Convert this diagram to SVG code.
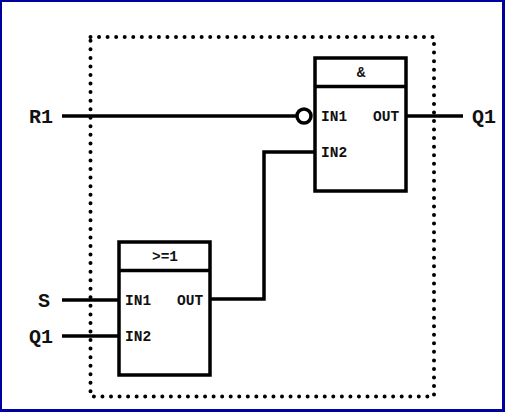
<svg xmlns="http://www.w3.org/2000/svg" width="505" height="412" viewBox="0 0 505 412">
<style>
.box{fill:#fff;stroke:#000;stroke-width:3.500}
.w{fill:none;stroke:#000;stroke-width:3.500}
.d{fill:none;stroke:#000;stroke-width:4;stroke-linecap:round;stroke-dasharray:0 8.55}
text{font-family:"Liberation Mono",monospace;font-weight:bold;fill:#111}
.p{font-size:14.500px}
.l{font-size:20px}
</style>
<rect width="505" height="412" fill="#0000a0"/>
<rect x="2" y="2" width="500" height="407" fill="#fff"/>
<g id="boundary"><rect class="d" x="90.500" y="37" width="343.500" height="359.500"/></g>
<g id="connectors">
<path class="w" d="M62 116H297"/>
<path class="w" d="M407 116H463"/>
<path class="w" d="M315 152H264V299H210"/>
<path class="w" d="M62 300H119"/>
<path class="w" d="M62 336H119"/>
</g>
<g id="and-block">
<rect class="box" x="315" y="58" width="91" height="133"/>
<path class="w" d="M315 86.500H406"/>
<circle class="w" cx="304" cy="116" r="7"/>
<text class="p" x="361" y="77" text-anchor="middle">&amp;</text>
<text class="p" x="321" y="121">IN1</text>
<text class="p" x="373" y="121">OUT</text>
<text class="p" x="321" y="157">IN2</text>
</g>
<g id="or-block">
<rect class="box" x="119" y="242" width="91" height="133"/>
<path class="w" d="M119 270.500H210"/>
<text class="p" x="165" y="261" text-anchor="middle">&gt;=1</text>
<text class="p" x="125" y="305">IN1</text>
<text class="p" x="177" y="305">OUT</text>
<text class="p" x="125" y="341">IN2</text>
</g>
<g id="label-r1"><text class="l" x="29" y="123">R1</text></g>
<g id="label-s"><text class="l" x="38" y="307">S</text></g>
<g id="label-q1-in"><text class="l" x="29" y="343">Q1</text></g>
<g id="label-q1-out"><text class="l" x="472" y="123">Q1</text></g>
</svg>
